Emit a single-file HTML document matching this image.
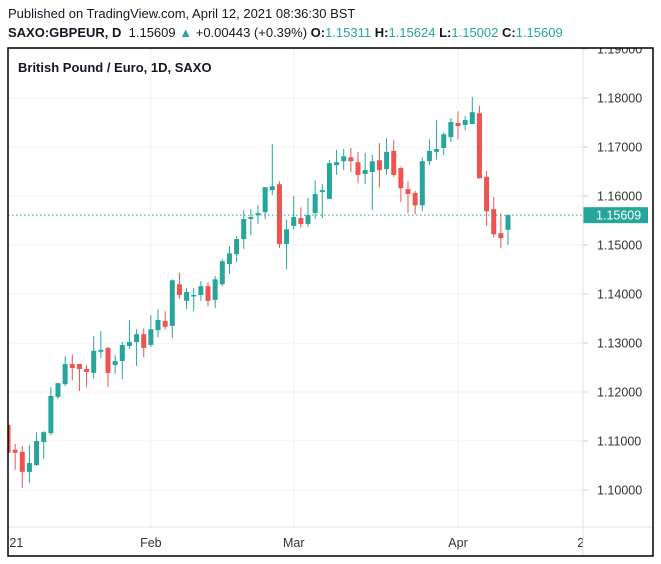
<!DOCTYPE html>
<html><head><meta charset="utf-8"><style>
body{margin:0;background:#fff;width:661px;height:564px;overflow:hidden;font-family:"Liberation Sans",sans-serif}
.hdr{position:absolute;left:8px;font-size:13px;color:#131722;white-space:nowrap}
</style></head><body>
<div class="hdr" style="top:6px">Published on TradingView.com, April 12, 2021 08:36:30 BST</div>
<div class="hdr" style="top:25px"><b>SAXO:GBPEUR, D</b>&nbsp; 1.15609 <span style="color:#26a69a">▲</span> +0.00443 (+0.39%) <b>O:</b><span style="color:#26a69a">1.15311</span> <b>H:</b><span style="color:#26a69a">1.15624</span> <b>L:</b><span style="color:#26a69a">1.15002</span> <b>C:</b><span style="color:#26a69a">1.15609</span></div>
<svg id="chart" width="661" height="564" style="position:absolute;left:0;top:0" xmlns="http://www.w3.org/2000/svg"></svg>
<script>
const opens=[1.1133,1.1082,1.1078,1.1037,1.1051,1.1098,1.1116,1.1190,1.1216,1.1257,1.1257,1.1247,1.1239,1.1282,1.1290,1.1255,1.1263,1.1294,1.1302,1.1318,1.1296,1.1326,1.1345,1.1335,1.1420,1.1386,1.1396,1.1398,1.1416,1.1388,1.1420,1.1461,1.1481,1.1512,1.1553,1.1561,1.1567,1.1612,1.1624,1.1502,1.1539,1.1555,1.1543,1.1565,1.1608,1.1594,1.1663,1.1671,1.1679,1.1669,1.1645,1.1649,1.1673,1.1655,1.1692,1.1657,1.1614,1.1606,1.1581,1.1671,1.1690,1.1698,1.1720,1.1749,1.1745,1.1747,1.1769,1.1639,1.1573,1.1524,1.15311];
const highs=[1.1180,1.1094,1.1090,1.1092,1.1118,1.1120,1.1210,1.1218,1.1273,1.1277,1.1257,1.1255,1.1314,1.1324,1.1292,1.1275,1.1302,1.1347,1.1328,1.1330,1.1357,1.1369,1.1365,1.1430,1.1443,1.1412,1.1412,1.1426,1.1424,1.1437,1.1471,1.1498,1.1518,1.1571,1.1573,1.1581,1.1618,1.1706,1.1630,1.1551,1.1600,1.1577,1.1596,1.1632,1.1624,1.1673,1.1694,1.1696,1.1698,1.1690,1.1688,1.1684,1.1708,1.1718,1.1714,1.1659,1.1630,1.1610,1.1679,1.1716,1.1755,1.1730,1.1759,1.1773,1.1763,1.1802,1.1784,1.1651,1.1598,1.1565,1.15624];
const lows=[1.1049,1.1041,1.1004,1.1014,1.1049,1.1063,1.1112,1.1186,1.1212,1.1224,1.1202,1.1210,1.1228,1.1269,1.1210,1.1237,1.1226,1.1288,1.1253,1.1271,1.1292,1.1312,1.1328,1.1310,1.1390,1.1369,1.1365,1.1386,1.1375,1.1371,1.1416,1.1441,1.1465,1.1492,1.1520,1.1543,1.1553,1.1602,1.1494,1.1451,1.1532,1.1535,1.1537,1.1553,1.1555,1.1594,1.1643,1.1653,1.1649,1.1626,1.1624,1.1571,1.1618,1.1643,1.1639,1.1588,1.1565,1.1563,1.1569,1.1663,1.1675,1.1684,1.1710,1.1716,1.1734,1.1747,1.1636,1.1539,1.1516,1.1494,1.15002];
const closes=[1.1076,1.1076,1.1037,1.1055,1.1100,1.1118,1.1192,1.1218,1.1257,1.1249,1.1247,1.1241,1.1284,1.1286,1.1239,1.1263,1.1296,1.1302,1.1318,1.1290,1.1328,1.1347,1.1333,1.1428,1.1398,1.1404,1.1398,1.1416,1.1386,1.1430,1.1467,1.1483,1.1512,1.1553,1.1557,1.1565,1.1618,1.1620,1.1502,1.1532,1.1557,1.1543,1.1561,1.1604,1.1612,1.1667,1.1669,1.1681,1.1671,1.1643,1.1653,1.1671,1.1653,1.1690,1.1643,1.1616,1.1604,1.1581,1.1671,1.1692,1.1696,1.1726,1.1751,1.1743,1.1755,1.1771,1.1636,1.1569,1.1522,1.1514,1.15609];
const priceTicks=[1.10,1.11,1.12,1.13,1.14,1.15,1.16,1.17,1.18,1.19];
const timeTickIdx=[0.2,20,40,63,79.7];
const timeTickLabels=["21","Feb","Mar","Apr","26"];
const lastPrice=1.15609;

const svg=document.getElementById('chart');
const NS='http://www.w3.org/2000/svg';
const L=8,R=653,T=48,B=556,PX=583,TB=527;
const y=p=>490-(p-1.10)*4900;
const x=i=>8+i*7.143;
function mk(tag,attrs,parent){const e=document.createElementNS(NS,tag);for(const k in attrs)e.setAttribute(k,attrs[k]);(parent||svg).appendChild(e);return e;}
const defs=mk('defs',{});
const cp=mk('clipPath',{id:'pc'},defs);mk('rect',{x:L,y:T,width:PX-L,height:TB-T},cp);
const cpa=mk('clipPath',{id:'pa'},defs);mk('rect',{x:PX,y:T,width:R-PX,height:B-T},cpa);
const cpt=mk('clipPath',{id:'ta'},defs);mk('rect',{x:L,y:TB,width:PX-L,height:B-TB},cpt);
const plot=mk('g',{'clip-path':'url(#pc)'});


const pAxis=mk('g',{'clip-path':'url(#pa)'});


const tAxis=mk('g',{'clip-path':'url(#ta)'});


priceTicks.forEach(p=>{
  const g=mk('line',{x1:L,x2:PX,y1:y(p),y2:y(p),stroke:'#f0f0f0','stroke-width':1},plot);
  
  
  const tk=mk('line',{x1:PX,x2:PX+5,y1:y(p),y2:y(p),stroke:'#ccc'},pAxis);
  
  
  const t=mk('text',{x:597,y:y(p)+4.5,'font-size':12.5,fill:'#333','font-family':'Liberation Sans, sans-serif'},pAxis);
  t.textContent=p.toFixed(5);
  
  
});
timeTickIdx.forEach((ti,k)=>{
  const gx=x(ti);
  if(k>0&&k<4){const g=mk('line',{x1:gx,x2:gx,y1:T,y2:TB,stroke:'#f0f0f0'},plot);
  
  }
  const anchor=(k===0||k===4)?'start':'middle';
  const t=mk('text',{x:gx,y:547,'font-size':12.5,fill:'#333','text-anchor':anchor,'font-family':'Liberation Sans, sans-serif'},tAxis);
  t.textContent=timeTickLabels[k];
  
  
});
opens.forEach((o,i)=>{
  const c=closes[i],up=c>=o,col=up?'#26a69a':'#ef5350',cx=x(i);
  const w=mk('line',{x1:cx,x2:cx,y1:y(highs[i]),y2:y(lows[i]),stroke:col,'stroke-width':1},plot);
  
  
  const top=y(Math.max(o,c)),h=Math.max(1.5,Math.abs(y(o)-y(c)));
  const b=mk('rect',{x:cx-2.5,y:top,width:5,height:h,fill:col},plot);
  
  
});
const pl=mk('line',{x1:L,x2:PX,y1:y(lastPrice),y2:y(lastPrice),stroke:'#26a69a','stroke-width':1,'stroke-dasharray':'1.5 2.5'});


const badge=mk('rect',{x:PX,y:y(lastPrice)-8,width:65,height:16,fill:'#26a69a'});


const bt=mk('text',{x:596,y:y(lastPrice)+4.5,'font-size':12.5,fill:'#fff','font-family':'Liberation Sans, sans-serif'});
bt.textContent=lastPrice.toFixed(5);


const ax=mk('line',{x1:L,x2:R,y1:TB,y2:TB,stroke:'#e0e0e0'});


const pa=mk('line',{x1:PX,x2:PX,y1:T,y2:B,stroke:'#e0e0e0'});


const fr=mk('rect',{x:L,y:T,width:R-L,height:B-T,fill:'none',stroke:'#000','stroke-width':1.5});


const ttl=mk('text',{x:18,y:72,'font-size':13,'font-weight':'bold',fill:'#131722','font-family':'Liberation Sans, sans-serif'});
ttl.textContent='British Pound / Euro, 1D, SAXO';


</script>
</body></html>
